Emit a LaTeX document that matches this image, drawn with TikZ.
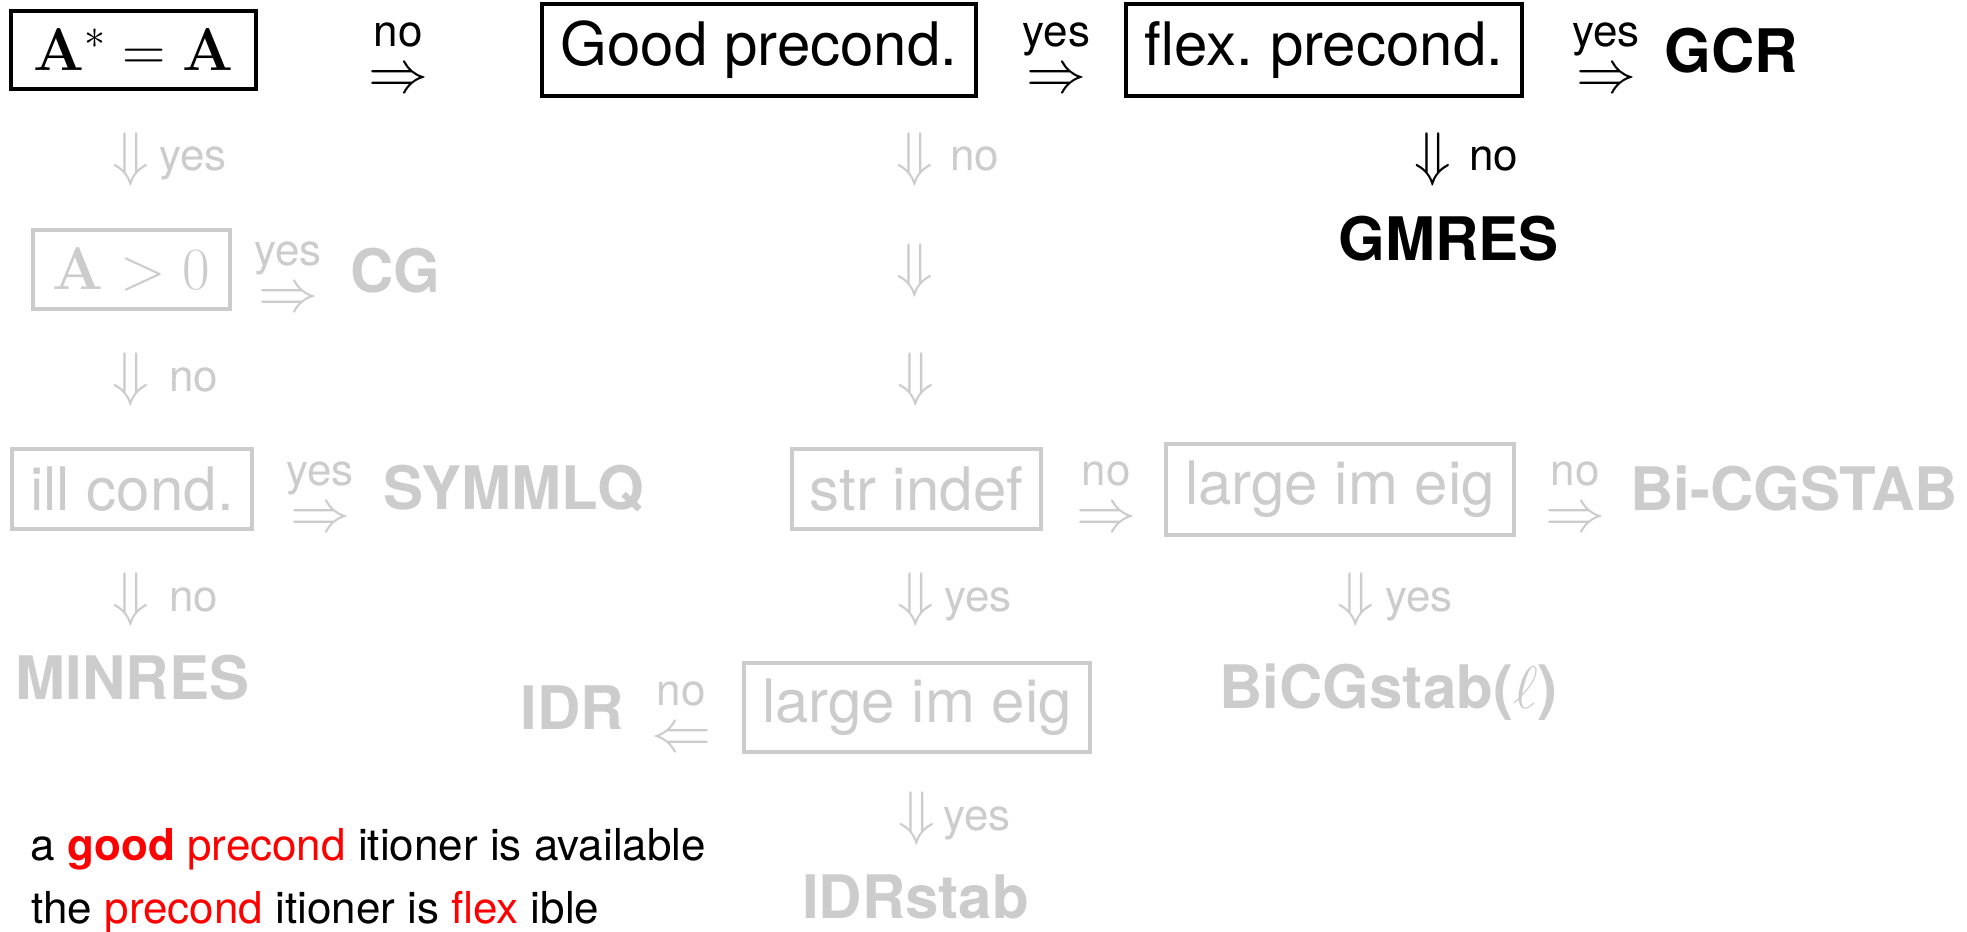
\RequirePackage{fix-cm}
\documentclass[tikz,border=0pt]{standalone}
\usepackage{amsmath}
\usepackage[no-math]{fontspec}
\setmainfont{TeX Gyre Heros}
\frenchspacing
\definecolor{lg}{RGB}{204,204,204}
\newcommand\mainsz{\fontsize{30}{36}\selectfont}
\newcommand\labsz{\fontsize{22}{26}\selectfont}
% relation arrow with its label set above it (like \stackrel)
\newcommand\stk[2]{\ooalign{\hfil\raisebox{23pt}{\labsz #1}\hfil\cr\hfil$#2$\hfil\cr}}
\tikzset{
  bx/.style={draw, line width=1.6pt, inner sep=0pt, font=\mainsz},
  off/.style={color=lg},
  rel/.style={inner sep=0pt, anchor=base, font=\mainsz},
  labw/.style={inner sep=0pt, anchor=base west, font=\labsz},
  arr/.style={inner sep=0pt, font=\mainsz},
  alg/.style={inner sep=0pt, anchor=base, font=\mainsz\bfseries},
  note/.style={inner sep=0pt, anchor=base west, font=\labsz}
}
\begin{document}
\begin{tikzpicture}[x=0.5pt,y=-0.5pt]
\useasboundingbox (0,0) rectangle (1967,932);
% boxes
\node[bx, minimum width=122.5pt, minimum height=39pt] (symm) at (133.5,50) {$\mathbf{A}^*=\mathbf{A}$};
\node[bx, minimum width=217pt, minimum height=46pt] (good) at (759,50) {Good precond.};
\node[bx, minimum width=198pt, minimum height=46pt] (flex) at (1324,50) {flex. precond.};
\node[bx, off, minimum width=98.5pt, minimum height=39.5pt] (pos) at (131.5,269.5) {$\mathbf{A}>0$};
\node[bx, off, minimum width=120pt, minimum height=40pt] (ill) at (132,489) {ill cond.};
\node[bx, off, minimum width=124.5pt, minimum height=40pt] (indef) at (916.5,489) {str indef};
\node[bx, off, minimum width=174pt, minimum height=45.5pt] (imA) at (1340,489.5) {large im eig};
\node[bx, off, minimum width=173pt, minimum height=44.5pt] (imB) at (917,707.5) {large im eig};
% horizontal arrows with labels above (position = baseline of the arrow)
\node[rel] (ra1) at (398,92) {\stk{no}{\Rightarrow}};
\node[rel] (ra2) at (1056.5,92) {\stk{yes}{\Rightarrow}};
\node[rel] (ra3) at (1606,92) {\stk{yes}{\Rightarrow}};
\node[rel, off] (ra4) at (288,311.5) {\stk{yes}{\Rightarrow}};
\node[rel, off] (ra5) at (320,531) {\stk{yes}{\Rightarrow}};
\node[rel, off] (ra6) at (1106,531) {\stk{no}{\Rightarrow}};
\node[rel, off] (ra7) at (1575,531) {\stk{no}{\Rightarrow}};
\node[rel, off] (ra8) at (681,751) {\stk{no}{\Leftarrow}};
% vertical arrows with labels
\node[arr, off] (da1) at (131,159) {$\Downarrow$};
\node[labw, off] (ld1) at (159,170) {yes};
\node[arr, off] (da2) at (915,159) {$\Downarrow$};
\node[labw, off] (ld2) at (950,170) {no};
\node[arr] (da3) at (1433,159) {$\Downarrow$};
\node[labw] (ld3) at (1469,170) {no};
\node[arr, off] (da4) at (915,270) {$\Downarrow$};
\node[arr, off] (da5) at (131,379.5) {$\Downarrow$};
\node[labw, off] (ld5) at (169,391) {no};
\node[arr, off] (da6) at (916,379.5) {$\Downarrow$};
\node[arr, off] (da7) at (131,599.5) {$\Downarrow$};
\node[labw, off] (ld7) at (169,611) {no};
\node[arr, off] (da8) at (916,599.5) {$\Downarrow$};
\node[labw, off] (ld8) at (944,611) {yes};
\node[arr, off] (da9) at (1356,599.5) {$\Downarrow$};
\node[labw, off] (ld9) at (1385,611) {yes};
\node[arr, off] (da10) at (917,818.5) {$\Downarrow$};
\node[labw, off] (ld10) at (943,830) {yes};
% methods
\node[alg] (gcr) at (1731,72) {GCR};
\node[alg] (gmres) at (1448.5,260) {GMRES};
\node[alg, off] (cg) at (395.5,292.5) {CG};
\node[alg, off] (symmlq) at (514,509.5) {SYMMLQ};
\node[alg, off] (minres) at (132.5,699.5) {MINRES};
\node[alg, off] (idr) at (572.5,729.5) {IDR};
\node[alg, off] (bicgstab) at (1794,510.5) {Bi-CGSTAB};
\node[alg, off] (bicgl) at (1388.5,708) {BiCGstab(\textmd{$\ell$})};
\node[alg, off] (idrstab) at (915.5,918) {IDRstab};
% notes
\node[note] (n1) at (30.5,860) {a {\color{red}\bfseries good} {\color{red}precond} itioner is available};
\node[note] (n2) at (31,923) {the {\color{red}precond} itioner is {\color{red}flex} ible};
\end{tikzpicture}
\end{document}
